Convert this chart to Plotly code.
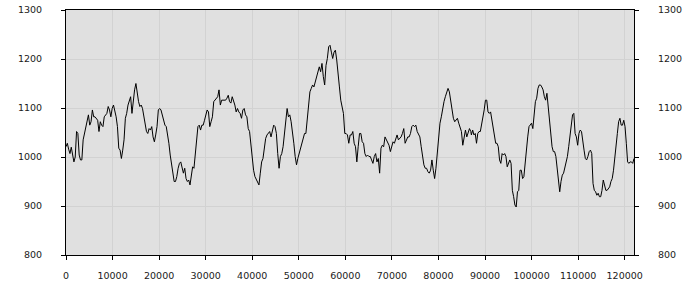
import numpy as np
import plotly.graph_objects as go

# Series values, in three consecutive stretches of the x range
seg1_range = (0, 37400)
seg1_vals = [1021,1028,1016,1007,1020,1005,990,1000,1052,1048,1004,994,994,1035,1048,1058,1075,1086,1065,1072,
             1096,1082,1082,1079,1075,1052,1072,1065,1062,1082,1086,1089,1103,1096,1082,1099,1106,1096,1082,1062,
             1018,1014,997,1014,1035,1079,1089,1106,1116,1123,1089,1116,1137,1150,1130,1113,1103,1106,1099,1082,
             1062,1052,1048,1058,1055,1062,1041,1031,1045,1062,1096,1099,1096,1086,1079,1065,1062,1048,1028,1004,
             987,973,950,950,960,977,987,990,977,967,977,956,950,953,943,967,980,977,1001,1035,
             1062,1065,1055,1065,1065,1075,1086,1096,1092,1062,1072,1082,1113,1116,1120,1123,1137,1106,1116,1116,
             1116,1116,1120,1126,1113,1110,1123,1116,1106,1092,1099,1092,1089]

seg2_range = (37700, 86950)
seg2_vals = [1079,1096,1099,1086,1082,1058,1052,1028,994,973,960,953,946,943,967,990,997,1021,1038,1045,
             1048,1052,1041,1052,1065,1062,1048,1007,977,1001,1007,1021,1048,1079,1099,1082,1086,1072,1052,1028,
             1001,984,997,1007,1021,1028,1038,1048,1048,1082,1116,1133,1140,1147,1143,1154,1160,1177,1184,1174,
             1191,1164,1147,1187,1201,1225,1228,1214,1201,1214,1218,1198,1164,1143,1116,1099,1089,1048,1048,1045,
             1028,1045,1045,1052,1028,1021,990,1021,1048,1048,1031,1028,1007,1001,1004,1001,1001,994,987,1001,
             1007,990,997,967,1018,1024,1021,1041,1035,1031,1024,1011,1021,1031,1028,1035,1045,1035,1038,1041,
             1048,1058,1028,1035,1041,1041,1048,1062,1065,1062,1065,1052,1045,1041,1021,1001,984,977,977,970,
             967,973,994,973,956,977,1007,1048,1069,1082,1103,1113,1123,1133,1140,1133,1116,1103,1079,1072,
             1075,1079,1069,1058,1052,1024,1045,1055,1041,1052,1058,1052]

seg3_range = (87070, 122000)
seg3_vals = [1045,1055,1045,1048,1028,1048,1052,1052,1065,1079,1096,1116,1116,1092,1089,1092,1075,1058,1041,1028,
             1028,1021,994,987,1007,1004,1007,1001,980,990,994,987,932,919,902,898,929,932,973,973,
             956,960,990,1021,1041,1062,1065,1069,1058,1096,1113,1120,1140,1147,1147,1143,1137,1123,1116,1130,
             1103,1075,1055,1021,1011,1011,1001,980,953,929,950,963,967,977,987,1001,1021,1041,1069,1086,
             1089,1048,1041,1024,1048,1055,1052,1028,1014,997,994,1001,1011,1014,1007,946,932,929,922,926,
             919,919,932,953,939,932,932,936,939,950,956,973,1004,1028,1048,1072,1079,1065,1065,1075,
             1062,1028,990,987,990,990,987,997]

x_range = (0, 122000)
y_range = (800, 1300)
x_ticks = list(range(0, 120001, 10000))
y_ticks = [800, 900, 1000, 1100, 1200, 1300]

xs, ys = [], []
for (a, b), vals in [(seg1_range, seg1_vals), (seg2_range, seg2_vals), (seg3_range, seg3_vals)]:
    xs.extend(np.linspace(a, b, len(vals)).tolist())
    ys.extend(vals)

font = dict(family="DejaVu Sans", size=9.5, color="#1a1a1a")

fig = go.Figure()
fig.add_trace(go.Scatter(x=xs, y=ys, mode="lines", line=dict(color="#000000", width=1),
                         hoverinfo="skip", showlegend=False))
fig.add_trace(go.Scatter(x=xs, y=ys, mode="lines", line=dict(color="rgba(0,0,0,0)", width=0),
                         yaxis="y2", hoverinfo="skip", showlegend=False))

fig.update_layout(
    width=700, height=300,
    margin=dict(l=66, r=66, t=10, b=45, autoexpand=False),
    paper_bgcolor="#ffffff",
    plot_bgcolor="#e0e0e0",
    showlegend=False,
    xaxis=dict(range=list(x_range), tickvals=x_ticks, ticktext=[str(v) for v in x_ticks],
               showgrid=True, gridcolor="#d2d2d2", gridwidth=1, zeroline=False,
               showline=True, linecolor="#000000", linewidth=1, mirror=True,
               ticks="outside", ticklen=4, tickcolor="#000000", tickfont=font,
               ticklabelstandoff=8, automargin=False),
    yaxis=dict(range=list(y_range), tickvals=y_ticks, ticktext=[str(v) for v in y_ticks],
               showgrid=True, gridcolor="#d2d2d2", gridwidth=1, zeroline=False,
               showline=True, linecolor="#000000", linewidth=1,
               ticks="outside", ticklen=4, tickcolor="#000000", tickfont=font,
               ticklabelstandoff=17, automargin=False),
    yaxis2=dict(range=list(y_range), tickvals=y_ticks, ticktext=[str(v) for v in y_ticks],
                overlaying="y", side="right", showgrid=False, zeroline=False,
                showline=True, linecolor="#000000", linewidth=1,
                ticks="outside", ticklen=4, tickcolor="#000000", tickfont=font,
                ticklabelstandoff=17, automargin=False),
)

fig.write_html("out.html")
